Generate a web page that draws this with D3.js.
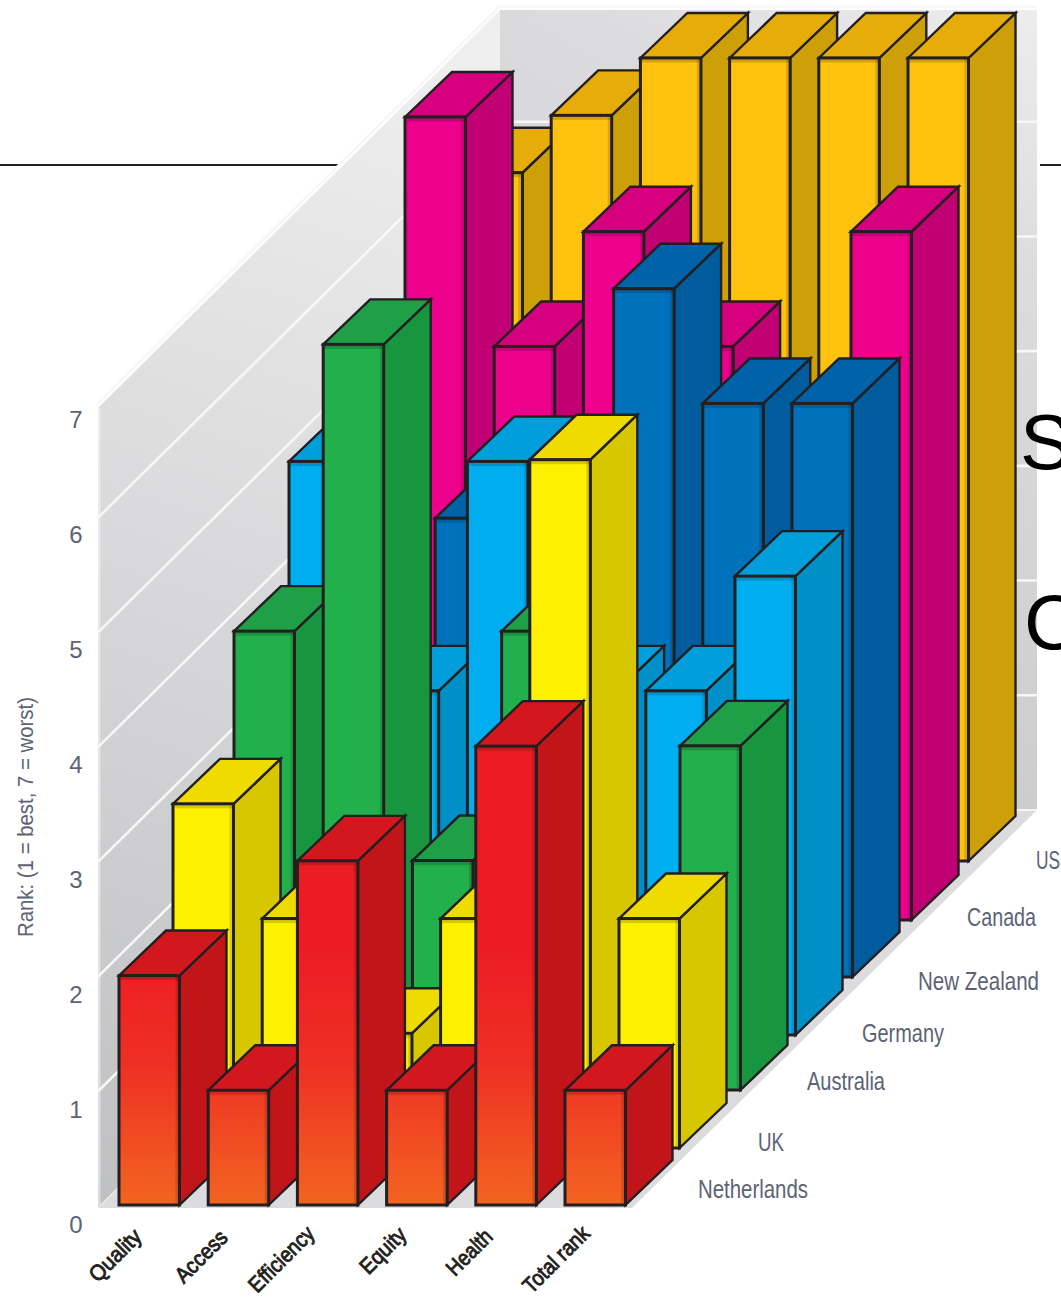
<!DOCTYPE html>
<html><head><meta charset="utf-8">
<style>html,body{margin:0;padding:0;background:#fff;overflow:hidden}svg{display:block}</style>
<script src="https://cdn.jsdelivr.net/npm/d3@7"></script></head>
<body><svg id="c" width="1061" height="1299"></svg>
<script>
const measures = ["Quality","Access","Efficiency","Equity","Health","Total rank"];
const countries = ["US","Canada","New Zealand","Germany","Australia","UK","Netherlands"];
const us          = [6,6.5,7,7,7,7];
const canada      = [7,5,6,5,2,6];
const newZealand  = [1,4,4,6,5,5];
const germany     = [5,3,5,3,3,4];
const australia   = [4,6.5,2,4,1,3];
const uk          = [3,2,1,2,6,2];
const netherlands = [2,1,3,1,4,1];
const seriesValues = [us,canada,newZealand,germany,australia,uk,netherlands];
const rankTicks = [0,1,2,3,4,5,6,7];

const front = ["#ffc20e","#ec008c","#0072bc","#00aeef","#21b04b","#fff200","url(#redFront)"];
const top_  = ["#e6ad0a","#d6007f","#0062a8","#009fdb","#1fa048","#eedc00","#d3171f"];
const side  = ["#cda009","#c10073","#005c9c","#0090c8","#18963f","#d7c700","#c1151a"];
const INK = "#231f20", LABEL = "#5b6375";
const FONT = "'Liberation Sans'";

const svg = d3.select("#c");
const defs = svg.append("defs");
function grad(id,x1,y1,x2,y2,stops){
  const g = defs.append("linearGradient").attr("id",id).attr("gradientUnits","userSpaceOnUse")
    .attr("x1",x1).attr("y1",y1).attr("x2",x2).attr("y2",y2);
  stops.forEach(s=>g.append("stop").attr("offset",s[0]).attr("stop-color",s[1]));
}
grad("redFront",0,950,0,1205,[[0,"#ed1c24"],[0.45,"#ee3024"],[1,"#f36421"]]);
grad("leftWall",480,60,100,1205,[[0,"#efeff0"],[1,"#bfc0c2"]]);
grad("backWall",1037,8,560,810,[[0,"#ededee"],[0.25,"#dcdcdf"],[1,"#c4c5c7"]]);

// Page rules behind the chart
svg.selectAll("line.rule").data([[0,339],[1040,1061]]).join("line").attr("class","rule")
  .attr("x1",d=>d[0]).attr("x2",d=>d[1]).attr("y1",165).attr("y2",165)
  .attr("stroke",INK).attr("stroke-width",2);

// Scales
const xCat = d3.scalePoint().domain(measures).range([119,565]);
const rowDx = d3.scaleOrdinal().domain(countries).range([343,286,227,170,115,54,0]);
const rowDy = d3.scaleOrdinal().domain(countries).range([344,285,228,170,115,57,0]);
const barH = d3.scaleLinear().domain([0,7]).range([0,803]);
const BASE = 1205, W = 60.5, DX = 47, DY = 45;
const pts = a => a.map(p=>p.join(",")).join(" ");

// Walls and floor
const WL = 98, WM = 500, WR = 1037, WB = 810, WT = 10;
const g = svg.append("g");
g.append("polygon").attr("fill","url(#backWall)").attr("points",pts([[WM,WT],[WR,WT],[WR,WB],[WM,WB]]));
g.append("polygon").attr("fill","url(#leftWall)").attr("points",pts([[WL,WT+398],[WM,WT],[WM,WB],[WL,BASE+2]]));
g.append("polygon").attr("fill","#dcdcdf").attr("points",pts([[WL,BASE+3],[WM,WB],[WR,WB],[632,BASE+3]]));
g.append("rect").attr("x",WL).attr("y",WT+398).attr("width",2.5).attr("height",BASE-WT-398).attr("fill","#fff").attr("opacity",.45);
rankTicks.slice(1).forEach(k=>{
  const h = barH(k);
  g.append("line").attr("x1",WL).attr("y1",BASE+1-h).attr("x2",WM).attr("y2",BASE+1-h-397)
    .attr("stroke","#f7f7f8").attr("stroke-width",2.6);
  g.append("line").attr("x1",WM).attr("x2",WR).attr("y1",WB-h).attr("y2",WB-h)
    .attr("stroke","#f7f7f8").attr("stroke-width",2.6);
});
g.append("line").attr("x1",WM).attr("x2",WR).attr("y1",WB).attr("y2",WB).attr("stroke","#f4f4f5").attr("stroke-width",2);

// Bars, back row first, left to right in each row
const barsData = [];
countries.forEach((c,ci)=>measures.forEach((m,mi)=>barsData.push({c,ci,m,v:seriesValues[ci][mi]})));
const bars = svg.append("g").selectAll("g").data(barsData).join("g");
const geom = d => {
  const x = xCat(d.m)+rowDx(d.c), b = BASE-rowDy(d.c), t = b-barH(d.v);
  return {x,b,t,r:x+W};
};
bars.append("polygon").attr("fill",d=>side[d.ci]).attr("stroke",INK).attr("stroke-width",2.4).attr("stroke-linejoin","miter")
  .attr("points",d=>{const o=geom(d);return pts([[o.r,o.t],[o.r+DX,o.t-DY],[o.r+DX,o.b-DY],[o.r,o.b]]);});
bars.append("polygon").attr("fill",d=>top_[d.ci]).attr("stroke",INK).attr("stroke-width",2.4).attr("stroke-linejoin","miter")
  .attr("points",d=>{const o=geom(d);return pts([[o.x,o.t],[o.x+DX,o.t-DY],[o.r+DX,o.t-DY],[o.r,o.t]]);});
bars.append("rect").attr("fill",d=>front[d.ci]).attr("stroke",INK).attr("stroke-width",3)
  .attr("x",d=>geom(d).x).attr("y",d=>geom(d).t).attr("width",W).attr("height",d=>barH(d.v));
bars.append("rect").attr("fill","#000").attr("opacity",.16)
  .attr("x",d=>geom(d).x+1.5).attr("y",d=>geom(d).t+1.5).attr("width",W-3).attr("height",3);
bars.append("rect").attr("fill","#000").attr("opacity",.14)
  .attr("x",d=>geom(d).r-4).attr("y",d=>geom(d).t+1.5).attr("width",2.5).attr("height",d=>barH(d.v)-3);

// Rank axis
const yAxisScale = d3.scaleLinear().domain([0,7]).range([1225,420]);
const yAxis = svg.append("g").attr("transform","translate(76,0)")
  .call(d3.axisLeft(yAxisScale).tickValues(rankTicks).tickFormat(d3.format("d")).tickSize(0).tickPadding(0));
yAxis.select(".domain").remove();
yAxis.selectAll("text").attr("text-anchor","middle").attr("fill",LABEL)
  .style("font-family",FONT).style("font-size","24px");
svg.append("text").attr("transform","translate(33,817) rotate(-90)").attr("text-anchor","middle")
  .attr("fill",LABEL).style("font-family",FONT).style("font-size","22px")
  .attr("textLength",240).attr("lengthAdjust","spacingAndGlyphs")
  .text("Rank: (1 = best, 7 = worst)");

// Measure labels
const catEndX = d3.scaleOrdinal().domain(measures).range([143,229,316,408,494,591]);
const catEndY = d3.scaleOrdinal().domain(measures).range([1238,1239,1235,1236,1238,1235]);
const catLen  = d3.scaleOrdinal().domain(measures).range([64,64,83,56,55,84]);
svg.append("g").selectAll("text").data(measures).join("text")
  .attr("transform",d=>`translate(${catEndX(d)},${catEndY(d)}) rotate(-45)`)
  .attr("text-anchor","end").attr("fill",INK).attr("stroke",INK).attr("stroke-width",.9)
  .attr("textLength",d=>catLen(d)).attr("lengthAdjust","spacingAndGlyphs")
  .style("font-family",FONT).style("font-size","22px").text(d=>d);

// Country labels
const rowEndX = d3.scaleOrdinal().domain(countries).range([1060,1036,1039,944,885,784,808]);
const rowBaseY = d3.scaleOrdinal().domain(countries).range([869,926,990,1042,1090,1151,1198]);
const rowLen = d3.scaleOrdinal().domain(countries).range([24,69,121,82,78,26,110]);
svg.append("g").selectAll("text").data(countries).join("text")
  .attr("x",d=>rowEndX(d)).attr("y",d=>rowBaseY(d)).attr("text-anchor","end").attr("fill",LABEL)
  .attr("textLength",d=>rowLen(d)).attr("lengthAdjust","spacingAndGlyphs")
  .style("font-family",FONT).style("font-size","25px").text(d=>d);

// Large cropped page letters at the right edge
svg.selectAll("text.page").data([["S",1020,469],["C",1024,649]]).join("text").attr("class","page")
  .attr("x",d=>d[1]).attr("y",d=>d[2]).attr("fill","#000")
  .style("font-family",FONT).style("font-size","78px").text(d=>d[0]);
</script></body></html>
